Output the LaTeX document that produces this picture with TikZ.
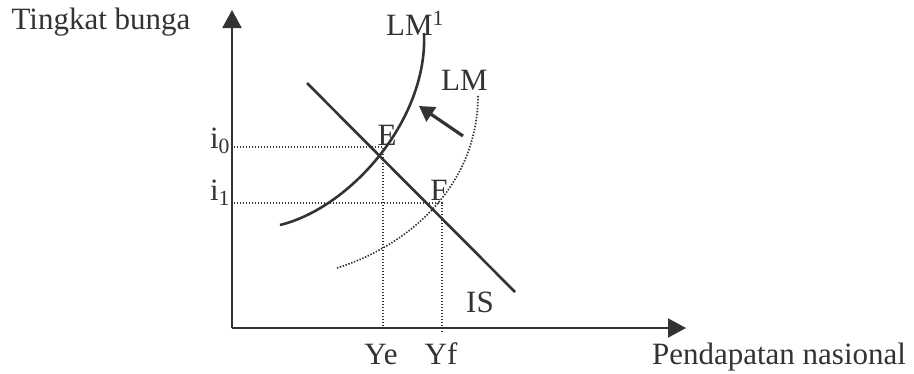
\documentclass[tikz,border=0pt]{standalone}
\usepackage{fontspec}
\setmainfont{Liberation Serif}
\usetikzlibrary{arrows.meta}
\begin{document}
\begin{tikzpicture}[x=1pt,y=-1pt,
  lbl/.style={font=\fontsize{31}{31}\selectfont, text=black!80, inner sep=0pt},
  axis/.style={line width=2pt, draw=black!80, -{Triangle[length=18pt,width=19pt]}},
  curve/.style={line width=2.6pt, draw=black!80},
  dots/.style={line width=1.5pt, draw=black!80, dash pattern=on 1.4pt off 1.6pt},
  move/.style={line width=3.2pt, draw=black!80, -{Triangle[length=15pt,width=17pt]}}]
\useasboundingbox (0,0) rectangle (914,373);
% axes
\coordinate (O) at (232,328);
\coordinate (ytop) at (232,10);
\coordinate (xend) at (686,328);
\draw[axis] (O) -- (ytop);
\draw[axis] (O) -- (xend);
% IS
\coordinate (is1) at (307,83);
\coordinate (is2) at (515,292);
\draw[curve] (is1) -- (is2);
% LM1
\coordinate (lm1a) at (280,225);
\coordinate (lm1b) at (424,33);
\draw[curve] (lm1a) .. controls (350,208) and (428,120) .. (lm1b);
% LM dotted
\coordinate (lma) at (337,268);
\coordinate (lmb) at (478,95);
\draw[dots, line width=1.7pt] (lma) .. controls (410,245) and (478,185) .. (lmb);
% points
\coordinate (i0p) at (234,147);
\coordinate (i1p) at (234,203);
\coordinate (Ep) at (383,147);
\coordinate (Fp) at (442,203);
\coordinate (Yeb) at (383,328);
\coordinate (Yfb) at (442,332);
\draw[dots] (i0p) -- (Ep) -- (Yeb);
\draw[dots] (i1p) -- (Fp) -- (Yfb);
% shift arrow
\coordinate (a1) at (463,136);
\coordinate (a2) at (419,106);
\draw[move] (a1) -- (a2);
% labels
\node[lbl] (ty) at (101,22) {Tingkat bunga};
\node[lbl] (px) at (779,357) {Pendapatan nasional};
\node[lbl, anchor=base west] (lm1) at (386,35) {LM$^{\mathrm{1}}$};
\node[lbl, anchor=base west] (lm) at (441,90) {LM};
\node[lbl, anchor=base] (Elab) at (387,145) {E};
\node[lbl, anchor=base] (Flab) at (439,200) {F};
\node[lbl, anchor=base] (islab) at (480,312) {IS};
\node[lbl, anchor=base] (i0) at (220,148) {i\textsubscript{0}};
\node[lbl, anchor=base] (i1) at (220,200) {i\textsubscript{1}};
\node[lbl, anchor=base] (ye) at (381,364) {Ye};
\node[lbl, anchor=base] (yf) at (441,364) {Yf};
\end{tikzpicture}
\end{document}
